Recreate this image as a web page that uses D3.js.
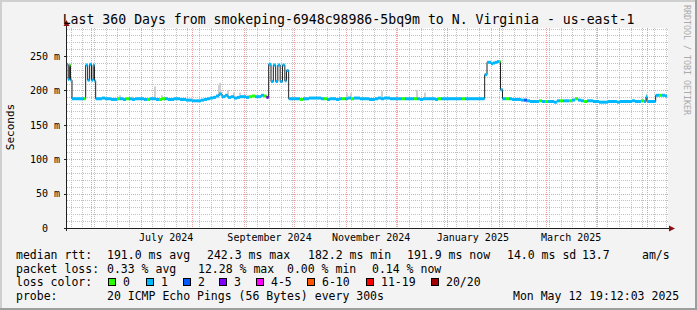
<!DOCTYPE html>
<html>
<head>
<meta charset="utf-8">
<style>
  body { margin: 0; background: #f3f3f3; }
  svg { display: block; font-family: 'DejaVu Sans Mono', monospace; }
  .minor { stroke: #c2c2c2; stroke-dasharray: 1,1; shape-rendering: crispEdges; }
  .major { stroke: #eea0a0; stroke-dasharray: 1,1; shape-rendering: crispEdges; }
  .axis .domain { display: none; }
  .axis text { font-family: 'DejaVu Sans Mono', monospace; font-size: 10px; fill: #000; }
  .legend { font-size: 11.5px; fill: #000; white-space: pre; }
</style>
</head>
<body>
<svg width="697" height="310"></svg>
<script src="https://d3js.org/d3.v7.min.js"></script>
<script>
// time window: last 360 days up to the graph time
let endTime = new Date(2025, 4, 12, 19, 12, 3);
let startTime = new Date(endTime.getTime() - 360 * 864e5);

// y axis ticks
let yTickValues = [0, 50, 100, 150, 200, 250];
let yTickLabels = ["0", "50 m", "100 m", "150 m", "200 m", "250 m"];

// x axis labels (every second month)
let xLabelMonths = [new Date(2024, 6, 1), new Date(2024, 8, 1), new Date(2024, 10, 1), new Date(2025, 0, 1), new Date(2025, 2, 1)];
let xLabels = ["July 2024", "September 2024", "November 2024", "January 2025", "March 2025"];

// median rtt samples: [days since start, ms, loss bucket]
let median = [
  [0.0, 238, 1], [0.7, 216, 1], [1.4, 237, 0], [2.1, 215, 1], [3.0, 188, 1],
  [4.8, 188, 1], [6.6, 188, 1], [8.4, 188, 1], [10.2, 188, 0],
  [11.2, 237, 1], [12.4, 215, 1], [13.6, 238, 1], [14.7, 215, 1], [15.7, 237, 1], [16.5, 214, 1], [17.2, 188, 1],
  [19.2, 188, 1], [21.0, 189, 1], [22.8, 188, 1], [24.6, 188, 1], [26.4, 187, 1], [28.2, 187, 1],
  [30.0, 188, 0], [31.8, 188, 1], [33.6, 187, 1], [35.4, 188, 0], [37.2, 188, 1], [39.0, 187, 1],
  [40.8, 188, 1], [42.6, 188, 1], [44.4, 188, 1], [46.2, 187, 1], [48.0, 187, 0], [49.8, 188, 1],
  [51.6, 188, 1], [53.4, 187, 1], [55.2, 187, 0], [57.0, 188, 0], [58.8, 188, 1], [60.6, 187, 1],
  [62.4, 187, 1], [64.2, 188, 1], [66.0, 188, 1], [67.8, 187, 1], [69.6, 187, 1], [71.4, 186, 1],
  [73.2, 186, 1], [75.0, 185, 1], [76.8, 185, 1], [78.6, 185, 1], [80.4, 186, 1], [82.2, 187, 1],
  [84.0, 188, 1], [85.8, 189, 1], [87.6, 190, 1], [89.4, 192, 1], [91.2, 195, 1], [93.0, 191, 1],
  [94.8, 193, 1], [96.6, 190, 1], [98.4, 191, 1], [100.2, 189, 1], [102.0, 190, 1], [103.8, 191, 1],
  [105.6, 191, 1], [107.4, 190, 1], [109.2, 191, 0], [111.0, 192, 0], [112.8, 191, 1], [114.6, 191, 1],
  [116.4, 193, 1], [118.2, 192, 0], [119.7, 190, 3],
  [121.0, 238, 1], [122.4, 213, 1], [123.8, 237, 1], [125.2, 213, 1], [126.5, 237, 1], [127.9, 213, 1],
  [129.3, 237, 1], [130.7, 214, 1], [131.7, 229, 1], [133.0, 188, 1],
  [134.4, 188, 1], [136.2, 188, 1], [138.0, 188, 1], [139.8, 187, 0], [141.6, 188, 1], [143.4, 188, 1],
  [145.2, 189, 1], [147.0, 189, 1], [148.8, 189, 1], [150.6, 189, 1], [152.4, 188, 1], [154.2, 188, 0],
  [156.0, 187, 1], [157.8, 188, 1], [159.6, 188, 1], [161.4, 187, 1], [163.2, 188, 1], [165.0, 188, 0],
  [166.8, 188, 1], [168.6, 189, 1], [170.4, 188, 0], [172.2, 189, 1], [174.0, 189, 1], [175.8, 188, 1],
  [177.6, 188, 1], [179.4, 188, 1], [181.2, 187, 1], [183.0, 187, 1], [184.8, 188, 1], [186.6, 189, 1],
  [188.4, 188, 1], [190.2, 189, 1], [192.0, 189, 1], [193.8, 188, 1], [195.6, 188, 1], [197.4, 188, 1],
  [199.2, 188, 1], [201.0, 188, 0], [202.8, 188, 1], [204.6, 188, 1], [206.4, 188, 1], [208.2, 188, 0],
  [210.0, 188, 1], [211.8, 187, 1], [213.6, 188, 1], [215.4, 188, 1], [217.2, 188, 1], [219.0, 188, 1],
  [220.8, 187, 1], [222.6, 188, 0], [224.4, 188, 1], [226.2, 188, 1], [228.0, 188, 1], [229.8, 188, 1],
  [231.6, 188, 1], [233.4, 188, 1], [235.2, 188, 1], [237.0, 188, 0], [238.8, 188, 1], [240.6, 188, 1],
  [242.4, 188, 1], [244.2, 188, 1], [246.0, 188, 1], [247.8, 188, 1], [249.6, 188, 1],
  [250.6, 223, 1], [252.0, 241, 1], [253.2, 241, 1], [254.4, 239, 1], [255.6, 240, 1], [256.8, 241, 1],
  [258.0, 242, 1], [259.2, 242, 0], [260.1, 201, 1], [261.3, 188, 1],
  [263.4, 188, 0], [265.2, 188, 1], [267.0, 187, 1], [268.8, 187, 1], [270.6, 187, 1], [272.4, 186, 1],
  [274.2, 186, 2], [276.0, 185, 1], [277.8, 184, 1], [279.6, 184, 1], [281.4, 184, 1], [283.2, 185, 0],
  [285.0, 184, 1], [286.8, 184, 0], [288.6, 184, 1], [290.4, 184, 1], [292.2, 183, 1], [294.0, 185, 1],
  [295.8, 185, 0], [297.6, 185, 1], [299.4, 185, 1], [301.2, 185, 0], [303.0, 186, 1], [304.8, 188, 0],
  [306.6, 186, 1], [308.4, 185, 1], [310.2, 184, 0], [312.0, 185, 1], [313.8, 185, 1], [315.6, 184, 1],
  [317.4, 184, 1], [319.2, 183, 1], [321.0, 183, 1], [322.8, 183, 1], [324.6, 184, 1], [326.4, 184, 1],
  [328.2, 184, 1], [330.0, 183, 1], [331.8, 184, 1], [333.6, 184, 1], [335.4, 184, 1], [337.2, 184, 1],
  [339.0, 185, 1], [340.8, 184, 1], [342.6, 184, 1], [344.4, 185, 0], [346.2, 184, 1], [347.4, 191, 1],
  [348.0, 184, 1], [349.8, 184, 1], [351.6, 184, 1], [353.2, 193, 1], [355.2, 193, 0], [357.0, 193, 1],
  [358.8, 192, 1]
];

// smoke spikes above the median: [days since start, top ms]
let smoke = [
  [31.2, 193], [38.4, 191], [52.2, 206], [56.4, 193], [90.6, 208], [91.2, 211], [96.0, 201], [99.6, 197],
  [103.2, 197], [108.0, 193], [167.4, 196], [169.8, 196], [188.4, 199], [209.4, 201], [214.2, 197], [347.4, 195]
];

// loss colours
let lossLabels = ["0", "1", "2", "3", "4-5", "6-10", "11-19", "20/20"];
let lossColors = ["#26ff00", "#00b8ff", "#0059ff", "#7e00ff", "#ff00ff", "#ff5500", "#ff0000", "#a00000"];

// legend texts
let rttStats = ["191.0 ms avg", "242.3 ms max", "182.2 ms min", "191.9 ms now", "14.0 ms sd", "13.7", "am/s"];
let lossStats = ["0.33 % avg", "12.28 % max", "0.00 % min", "0.14 % now"];
let probeText = "20 ICMP Echo Pings (56 Bytes) every 300s";
let stampText = "Mon May 12 19:12:03 2025";
let titleText = "Last 360 Days from smokeping-6948c98986-5bq9m to N. Virginia - us-east-1";

let svg = d3.select("svg");
let W = 697, H = 310;
let plotLeft = 67, plotRight = 667, plotTop = 28, plotBottom = 228;

// background + 3d frame
svg.append("rect").attr("width", W).attr("height", H).attr("fill", "#f3f3f3");
svg.append("rect").attr("x", 0).attr("y", 0).attr("width", W).attr("height", 2).attr("fill", "#cfcfcf");
svg.append("rect").attr("x", 0).attr("y", 0).attr("width", 2).attr("height", H).attr("fill", "#cfcfcf");
svg.append("rect").attr("x", 0).attr("y", H - 2).attr("width", W).attr("height", 2).attr("fill", "#9e9e9e");
svg.append("rect").attr("x", W - 2).attr("y", 0).attr("width", 2).attr("height", H).attr("fill", "#9e9e9e");

// canvas
svg.append("rect").attr("x", plotLeft).attr("y", plotTop).attr("width", plotRight - plotLeft + 1)
  .attr("height", plotBottom - plotTop).attr("fill", "#fff");

let x = d3.scaleTime().domain([startTime, endTime]).range([plotLeft, plotRight]);
let y = d3.scaleLinear().domain([0, 290.9]).range([plotBottom, plotTop]);
let toDate = d => new Date(startTime.getTime() + d * 864e5);
let px = v => Math.round(v) + 0.5;

// horizontal grid
let grid = svg.append("g");
d3.range(10, 291, 10).filter(v => v % 50 !== 0).forEach(v => {
  grid.append("line").attr("class", "minor")
    .attr("x1", plotLeft).attr("x2", plotRight + 1).attr("y1", px(y(v))).attr("y2", px(y(v)));
});
// vertical minor grid (weekly)
d3.timeMonday.range(startTime, endTime).forEach(t => {
  grid.append("line").attr("class", "minor")
    .attr("x1", px(x(t))).attr("x2", px(x(t))).attr("y1", plotTop).attr("y2", plotBottom);
});
// major grid
yTickValues.filter(v => v > 0).forEach(v => {
  grid.append("line").attr("class", "major")
    .attr("x1", plotLeft).attr("x2", plotRight + 1).attr("y1", px(y(v))).attr("y2", px(y(v)));
  svg.append("line").attr("x1", plotLeft - 3).attr("x2", plotLeft).attr("y1", px(y(v))).attr("y2", px(y(v)))
    .attr("stroke", "#202020").attr("shape-rendering", "crispEdges");
});
d3.timeMonth.range(startTime, endTime).forEach(t => {
  grid.append("line").attr("class", "major")
    .attr("x1", px(x(t))).attr("x2", px(x(t))).attr("y1", plotTop).attr("y2", plotBottom);
});

// smoke
svg.append("g").selectAll("rect").data(smoke).join("rect")
  .attr("x", d => Math.round(x(toDate(d[0]))))
  .attr("width", 2)
  .attr("y", d => y(d[1]))
  .attr("height", d => {
    let m = median.filter(s => s[0] <= d[0]).pop();
    return Math.max(0, y(m[1]) - y(d[1]));
  })
  .attr("fill", "#cfcfcf");

// median line (black step line)
let line = d3.line()
  .x(d => x(toDate(d[0])))
  .y(d => y(d[1]))
  .curve(d3.curveStepAfter);
svg.append("path")
  .datum(median)
  .attr("d", line)
  .attr("fill", "none")
  .attr("stroke", "#202020")
  .attr("stroke-width", 1);

// loss coloured band on the median
svg.append("g").selectAll("rect").data(median).join("rect")
  .attr("x", d => x(toDate(d[0])))
  .attr("width", (d, i) => {
    let next = i < median.length - 1 ? toDate(median[i + 1][0]) : endTime;
    return Math.max(1, x(next) - x(toDate(d[0])));
  })
  .attr("y", d => y(d[1]) - 1.5)
  .attr("height", 3)
  .attr("fill", d => lossColors[d[2]]);

// axes lines
svg.append("line").attr("x1", plotLeft - 0.5).attr("x2", plotLeft - 0.5).attr("y1", plotBottom + 3).attr("y2", 24)
  .attr("stroke", "#202020").attr("shape-rendering", "crispEdges");
svg.append("line").attr("x1", plotLeft - 3).attr("x2", plotRight + 4).attr("y1", plotBottom + 0.5).attr("y2", plotBottom + 0.5)
  .attr("stroke", "#202020").attr("shape-rendering", "crispEdges");
svg.append("path").attr("d", `M${plotLeft - 3.5},26 L${plotLeft + 2.5},26 L${plotLeft - 0.5},20 Z`).attr("fill", "#8b1010");
svg.append("path").attr("d", `M${plotRight + 2},${plotBottom - 2.5} L${plotRight + 2},${plotBottom + 3.5} L${plotRight + 8},${plotBottom + 0.5} Z`).attr("fill", "#8b1010");

// y axis labels
let yAxis = svg.append("g").attr("class", "axis")
  .attr("transform", `translate(${plotLeft - 1},0)`)
  .call(d3.axisLeft(y).tickValues(yTickValues).tickFormat((d, i) => yTickLabels[i]).tickSize(0).tickPadding(6));
yAxis.selectAll("text").filter(d => d === 0).attr("x", -18);

// x axis labels, centred half a month in
svg.append("g").attr("class", "axis")
  .attr("transform", `translate(0,${plotBottom})`)
  .call(d3.axisBottom(x).tickValues(xLabelMonths.map(m => d3.timeDay.offset(m, 15)))
    .tickFormat((d, i) => xLabels[i]).tickSize(0).tickPadding(6));

// title
svg.append("text").attr("x", W / 2).attr("y", 24).attr("text-anchor", "middle")
  .attr("font-size", 13.2).text(titleText);

// y axis title
svg.append("text").attr("transform", "translate(14,127) rotate(-90)").attr("text-anchor", "middle")
  .attr("font-size", 11).text("Seconds");

// watermark
svg.append("text").attr("transform", "translate(684,5) rotate(90)")
  .attr("font-size", 8.3).attr("fill", "#aaa").text("RRDTOOL / TOBI OETIKER");

// legend
let lg = svg.append("g").attr("class", "legend");
let rows = [258.5, 272.5, 286, 300];
lg.append("text").attr("x", 16).attr("y", rows[0]).text("median rtt:");
[107, 207, 308, 407, 507, 582, 642].forEach((xp, i) => {
  lg.append("text").attr("x", xp).attr("y", rows[0]).text(rttStats[i]);
});
lg.append("text").attr("x", 16).attr("y", rows[1]).text("packet loss:");
[107, 198, 287, 372].forEach((xp, i) => {
  lg.append("text").attr("x", xp).attr("y", rows[1]).text(lossStats[i]);
});
lg.append("text").attr("x", 16).attr("y", rows[2]).text("loss color:");
[108, 146, 183, 219, 256, 307, 366, 431].forEach((xp, i) => {
  lg.append("rect").attr("x", xp + 0.5).attr("y", 278.5).attr("width", 7).attr("height", 7)
    .attr("fill", lossColors[i]).attr("stroke", "#000");
  lg.append("text").attr("x", xp + 15).attr("y", rows[2]).text(lossLabels[i]);
});
lg.append("text").attr("x", 16).attr("y", rows[3]).text("probe:");
lg.append("text").attr("x", 107).attr("y", rows[3]).text(probeText);
lg.append("text").attr("x", 513).attr("y", rows[3]).text(stampText);
</script>
</body>
</html>
